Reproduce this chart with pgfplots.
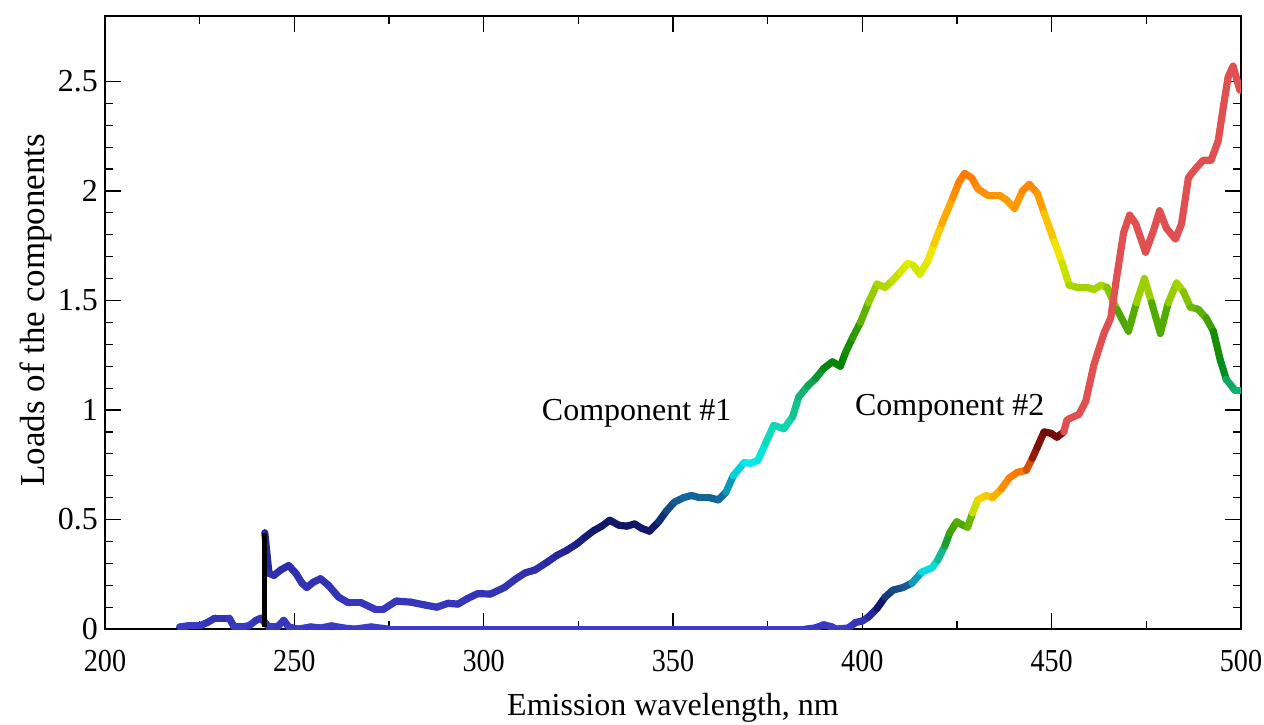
\documentclass[border=0pt]{standalone}
\usepackage{fontspec}
\setmainfont{Liberation Serif}
\usepackage{pgfplots}
\pgfplotsset{compat=1.18}
\pgfplotsset{
  colormap={cone}{rgb255(0pt)=(60,60,200) rgb255(30pt)=(45,45,170) rgb255(48pt)=(16,22,100) rgb255(60pt)=(20,100,150) rgb255(76pt)=(0,235,235) rgb255(95pt)=(20,210,170) rgb255(110pt)=(20,175,110) rgb255(122pt)=(0,130,0) rgb255(135pt)=(40,150,0) rgb255(155pt)=(160,210,0) rgb255(168pt)=(235,240,0) rgb255(185pt)=(255,190,0) rgb255(200pt)=(255,140,0) rgb255(208pt)=(255,120,0)},
  colormap={ctwo}{rgb255(0pt)=(60,60,200) rgb255(5pt)=(50,50,180) rgb255(12pt)=(16,22,110) rgb255(20pt)=(25,90,145) rgb255(28pt)=(0,240,240) rgb255(37pt)=(20,170,110) rgb255(44pt)=(40,150,0) rgb255(53pt)=(140,200,0) rgb255(58pt)=(240,240,0) rgb255(64pt)=(255,150,0) rgb255(72pt)=(255,120,0) rgb255(80pt)=(150,30,10) rgb255(90pt)=(110,10,10) rgb255(95pt)=(140,20,20)},
}
\definecolor{redline}{RGB}{224,80,80}
\begin{document}
\begin{tikzpicture}
\begin{axis}[
  scale only axis,
  width=568pt, height=306.7pt,
  xmin=200, xmax=500, ymin=0, ymax=2.8,
  xtick={200,250,...,500},
  ytick={0,0.5,1,1.5,2,2.5},
  minor x tick num=1,
  minor y tick num=4,
  tick align=inside,
  major tick length=8pt,
  minor tick length=4pt,
  tick style={black, line width=0.6pt},
  axis line style={black, line width=0.9pt},
  /pgf/number format/assume math mode=true,
  point meta min=0, point meta max=2.08,
  tick label style={font=\fontsize{16}{19}\selectfont},
  xticklabel style={yshift=-7pt, xscale=0.88},
  label style={font=\fontsize{16}{19}\selectfont},
  xlabel={Emission wavelength, nm},
  ylabel={Loads of the components},
  xlabel style={at={(axis description cs:0.5,-0.129)}, anchor=center},
  ylabel style={at={(axis description cs:-0.061,0.52)}, anchor=center, font=\fontsize{17.5}{20}\selectfont},
  clip=true,
]
% Component 2 (low, coloured part)
\addplot[mesh, colormap name=ctwo, point meta={y*2.08/0.95}, line width=3.6pt, line cap=round] coordinates {
(219.7,0.01) (222,0.015) (225,0.015) (227,0.03) (229,0.05) (232.8,0.05) (234.1,0.01) (236,0.01) (238,0.015) (239.9,0.04) (241.2,0.05) (242.2,0.03) (243.3,0.01) (245.5,0.01) (247.2,0.04) (248.5,0.01) (251,0.0) (254.3,0.01) (257,0.005) (259.8,0.015) (263,0.005) (266,0.0) (270.3,0.01) (274.8,0.0) (300,0) (350,0) (385,0) (387.5,0.005) (389.8,0.02) (392,0.01) (393,0.0) (396.3,0.005) (398.2,0.03) (400,0.037) (401.6,0.055) (403.9,0.095) (406,0.146) (408.1,0.178) (410.8,0.19) (413.1,0.21) (415.7,0.26) (418.4,0.28) (419.9,0.315) (421.8,0.38) (423.1,0.44) (424.9,0.49) (426.5,0.475) (427.8,0.465) (429.1,0.53) (430.5,0.59) (432.8,0.61) (434.4,0.60) (436.7,0.64) (438.8,0.69) (441,0.716) (443.3,0.725) (444.9,0.78) (446.2,0.83) (448,0.90) (449.8,0.894) (451.4,0.876) (453.2,0.90)
};
% Component 1
\addplot[mesh, colormap name=cone, point meta=y, line width=3.6pt, line cap=round] coordinates {
(242.2,0.44) (243.3,0.255) (244.6,0.245) (246.4,0.27) (248.5,0.29) (250.4,0.255) (252,0.21) (253.3,0.19) (255.1,0.215) (256.9,0.23) (259,0.20) (261.7,0.146) (264.3,0.12) (267.7,0.12) (271.4,0.09) (273.5,0.09) (276.9,0.128) (280.8,0.123) (284.5,0.11) (287.6,0.10) (290.6,0.118) (293.2,0.114) (295.8,0.14) (298.4,0.162) (301.8,0.16) (305.5,0.19) (308.4,0.228) (311,0.257) (313.6,0.27) (316.8,0.306) (319.4,0.337) (322,0.36) (324.7,0.39) (326.8,0.42) (329.1,0.45) (331.2,0.47) (333.3,0.497) (335.7,0.474) (337.8,0.47) (339.9,0.48) (341.7,0.46) (343.8,0.447) (346.2,0.49) (348.3,0.54) (350.4,0.58) (352.8,0.60) (354.9,0.61) (357,0.60) (359.6,0.60) (362,0.59) (364,0.625) (365.9,0.70) (368.8,0.76) (370.6,0.757) (372.4,0.77) (374.5,0.85) (376.6,0.93) (379.3,0.915) (381.6,0.97) (383.2,1.06) (385.6,1.11) (387.7,1.145) (389.8,1.19) (392.1,1.22) (394.2,1.20) (395.5,1.26) (397.4,1.33) (399.5,1.40) (401.6,1.49) (403.9,1.575) (406,1.56) (407.9,1.59) (410,1.63) (412,1.67) (413.5,1.66) (415.2,1.62) (417.3,1.68) (419,1.76) (421,1.85) (423.9,1.97) (425.5,2.04) (427,2.08) (428.9,2.06) (430.5,2.01) (433.1,1.98) (436.2,1.98) (438,1.96) (440.2,1.92) (442.3,2.00) (444.1,2.03) (446.2,1.99) (448,1.90) (450.7,1.77) (452.8,1.67) (454.6,1.57) (456.7,1.56) (459.3,1.56) (461.2,1.55) (463,1.57) (464.6,1.56) (467.2,1.46) (470.3,1.36) (472.4,1.49) (474.5,1.60) (476.4,1.49) (478.7,1.35) (480.8,1.49) (483,1.58) (484.8,1.54) (486.6,1.47) (488.7,1.46) (490.8,1.42) (492.7,1.36) (494.5,1.23) (496.1,1.14) (498.4,1.09) (500,1.09)
};
% Component 2 (red part)
\addplot[redline, line width=3.6pt, line cap=round, line join=round] coordinates {
(453.2,0.90) (454,0.953) (454.6,0.96) (457.2,0.98) (459,1.04) (461.2,1.21) (463.8,1.35) (465.6,1.42) (467.2,1.61) (469,1.81) (470.6,1.89) (472.2,1.85) (474.8,1.72) (476.9,1.82) (478.5,1.91) (480.3,1.83) (482.7,1.78) (484.3,1.85) (486.1,2.06) (487.9,2.10) (490,2.14) (492.1,2.14) (494,2.23) (495.3,2.38) (496.6,2.52) (497.9,2.57) (499.7,2.46)
};
% black spike
\addplot[black, line width=2.4pt] coordinates {(242.2,0.01) (242.2,0.44)};
\node[font=\fontsize{16}{19}\selectfont] at (axis cs:340.4,0.985) {Component \#1};
\node[font=\fontsize{16}{19}\selectfont] at (axis cs:423.1,1.008) {Component \#2};
\end{axis}
\pgfresetboundingbox
\path (-52.5pt,-47.5pt) rectangle (579.5pt,314.55pt);
\end{tikzpicture}
\end{document}
